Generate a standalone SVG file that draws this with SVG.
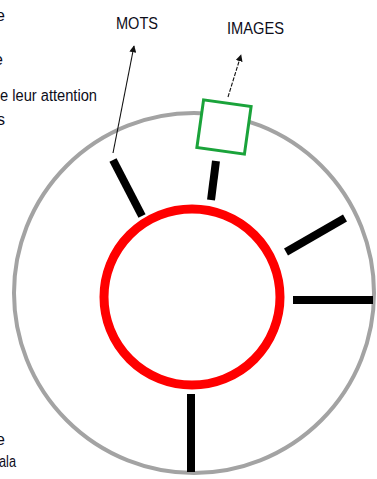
<svg xmlns="http://www.w3.org/2000/svg" width="377" height="479" viewBox="0 0 377 479">
<style>
.t{font-family:"Liberation Sans",Arial,sans-serif;fill:#0d0d1a}
.bar{stroke:#000;stroke-width:8;stroke-linecap:butt}
.arr{stroke:#111;stroke-width:1.1;fill:none;marker-end:url(#ah)}
</style>
<defs>
<marker id="ah" viewBox="0 0 10 10" refX="9" refY="5" markerWidth="7" markerHeight="7" markerUnits="userSpaceOnUse" orient="auto">
<path d="M0,0 L10,5 L0,10 z" fill="#111"/>
</marker>
</defs>
<rect width="377" height="479" fill="#fff"/>
<g id="outer-ring"><circle cx="194" cy="293" r="180" fill="none" stroke="#a3a3a3" stroke-width="4"/></g>
<g id="inner-ring"><circle cx="192" cy="297" r="88" fill="none" stroke="#ff0000" stroke-width="9"/></g>
<g id="bars">
<line class="bar" x1="113" y1="160" x2="142" y2="216"/>
<line class="bar" x1="216" y1="161" x2="211" y2="200"/>
<line class="bar" x1="345" y1="218" x2="286" y2="252"/>
<line class="bar" x1="293" y1="300" x2="373" y2="300"/>
<line class="bar" x1="191" y1="394" x2="191" y2="472"/>
</g>
<g id="images-box"><rect x="-24" y="-24" width="48" height="48" fill="#fff" stroke="#1aa33a" stroke-width="3" transform="translate(224,127) rotate(8)"/></g>
<g id="connectors">
<line class="arr" x1="113" y1="153" x2="134" y2="46"/>
<line class="arr" x1="228" y1="97" x2="241" y2="55" stroke-dasharray="4 1.5"/>
</g>
<g id="labels">
<text class="t" x="116" y="29" font-size="17" textLength="42" lengthAdjust="spacingAndGlyphs">MOTS</text>
<text class="t" x="227" y="34" font-size="17" textLength="57" lengthAdjust="spacingAndGlyphs">IMAGES</text>
<text class="t" x="-4" y="21" font-size="16">e</text>
<text class="t" x="-6" y="65" font-size="16">e</text>
<text class="t" x="0" y="101" font-size="16" textLength="97" lengthAdjust="spacingAndGlyphs">e leur attention</text>
<text class="t" x="-3" y="125" font-size="16">s</text>
<text class="t" x="-4" y="445" font-size="16">e</text>
<text class="t" x="-1" y="467" font-size="16" textLength="17" lengthAdjust="spacingAndGlyphs">ala</text>
</g>
</svg>
